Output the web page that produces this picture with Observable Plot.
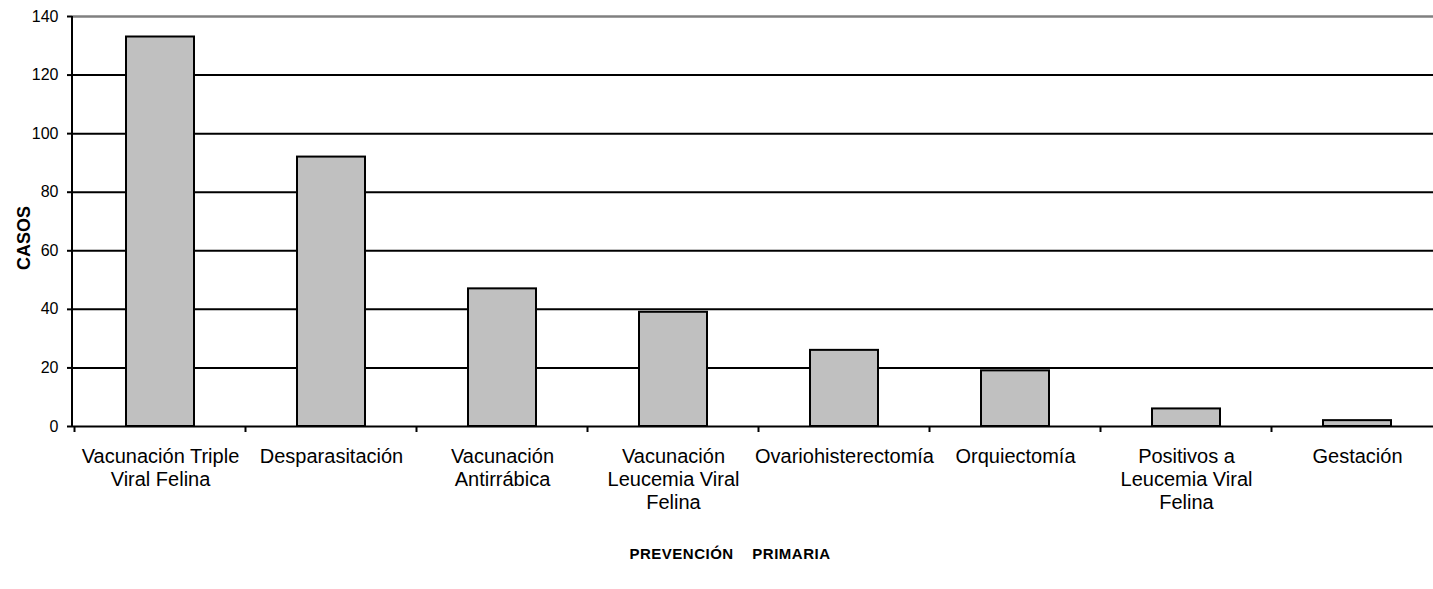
<!DOCTYPE html>
<html>
<head>
<meta charset="utf-8">
<script src="https://cdn.jsdelivr.net/npm/d3@7"></script>
<script src="https://cdn.jsdelivr.net/npm/@observablehq/plot@0.6"></script>
<style>
  html, body { margin: 0; padding: 0; background: #fff; }
  svg { display: block; }
</style>
</head>
<body>
<div id="chart"></div>
<script>
const categories = [
  "Vacunación Triple Viral Felina",
  "Desparasitación",
  "Vacunación Antirrábica",
  "Vacunación Leucemia Viral Felina",
  "Ovariohisterectomía",
  "Orquiectomía",
  "Positivos a Leucemia Viral Felina",
  "Gestación"
];
const labels = [
  "Vacunación Triple\nViral Felina",
  "Desparasitación",
  "Vacunación\nAntirrábica",
  "Vacunación\nLeucemia Viral\nFelina",
  "Ovariohisterectomía",
  "Orquiectomía",
  "Positivos a\nLeucemia Viral\nFelina",
  "Gestación"
];
const casos = [133, 92, 47, 39, 26, 19, 6, 2];
const yTicks = [0, 20, 40, 60, 80, 100, 120, 140];
const gridTicks = [20, 40, 60, 80, 100, 120];
const yTitle = "CASOS";
const xTitle = "PREVENCIÓN    PRIMARIA";

const data = categories.map((c, i) => ({cat: c, label: labels[i], value: casos[i]}));

const W = 1433, H = 589;
const chart = Plot.plot({
  width: W,
  height: H,
  marginLeft: 72,
  marginRight: -13,
  marginTop: 16,
  marginBottom: 163,
  style: {fontFamily: "'Liberation Sans', Arial, sans-serif", fontSize: "16px", color: "#000", background: "#fff"},
  x: {domain: categories, range: [72, 1446], paddingInner: 0.6, paddingOuter: 0.3, align: 0.5, axis: null},
  y: {domain: [0, 140], range: [426, 16], axis: null},
  marks: [
    Plot.ruleY(gridTicks, {stroke: "#000", strokeWidth: 2}),
    Plot.ruleY([140], {stroke: "#808080", strokeWidth: 2.5}),
    Plot.barY(data, {x: "cat", y: "value", fill: "#c0c0c0", stroke: "#000", strokeWidth: 2}),
    Plot.ruleY([0], {stroke: "#000", strokeWidth: 2}),
    Plot.axisY({ticks: yTicks, tickSize: 5, tickPadding: 9, stroke: "#000", strokeWidth: 2, label: null, fontSize: 16, fill: "#000"}),
    Plot.text(data, {x: "cat", y: 0, text: "label", dy: 20, lineAnchor: "top", lineHeight: 1.15, fontSize: 20, fill: "#000"}),
  ]
});

const svg = d3.select(chart);
const ys = chart.scale("y");
const xs = chart.scale("x");
// left axis line
svg.append("line")
  .attr("x1", 72).attr("x2", 72)
  .attr("y1", ys.apply(0) + 1).attr("y2", ys.apply(140))
  .attr("stroke", "#000").attr("stroke-width", 2);
// category boundary ticks under the zero line
const step = xs.step;
categories.forEach((c) => {
  const left = xs.apply(c) - (step - xs.bandwidth) / 2;
  svg.append("line")
    .attr("x1", left).attr("x2", left)
    .attr("y1", ys.apply(0)).attr("y2", ys.apply(0) + 6)
    .attr("stroke", "#000").attr("stroke-width", 2);
});
// y title
svg.append("text")
  .attr("transform", `translate(30,238) rotate(-90)`)
  .attr("text-anchor", "middle")
  .attr("font-weight", "bold")
  .attr("font-size", 18)
  .attr("fill", "#000")
  .text(yTitle);
// x title
svg.append("text")
  .attr("x", 730).attr("y", 559)
  .attr("text-anchor", "middle")
  .attr("font-weight", "bold")
  .attr("font-size", 15)
  .attr("letter-spacing", "0.5px")
  .attr("fill", "#000")
  .attr("xml:space", "preserve")
  .style("white-space", "pre")
  .text(xTitle);

document.getElementById("chart").appendChild(chart);
</script>
</body>
</html>
